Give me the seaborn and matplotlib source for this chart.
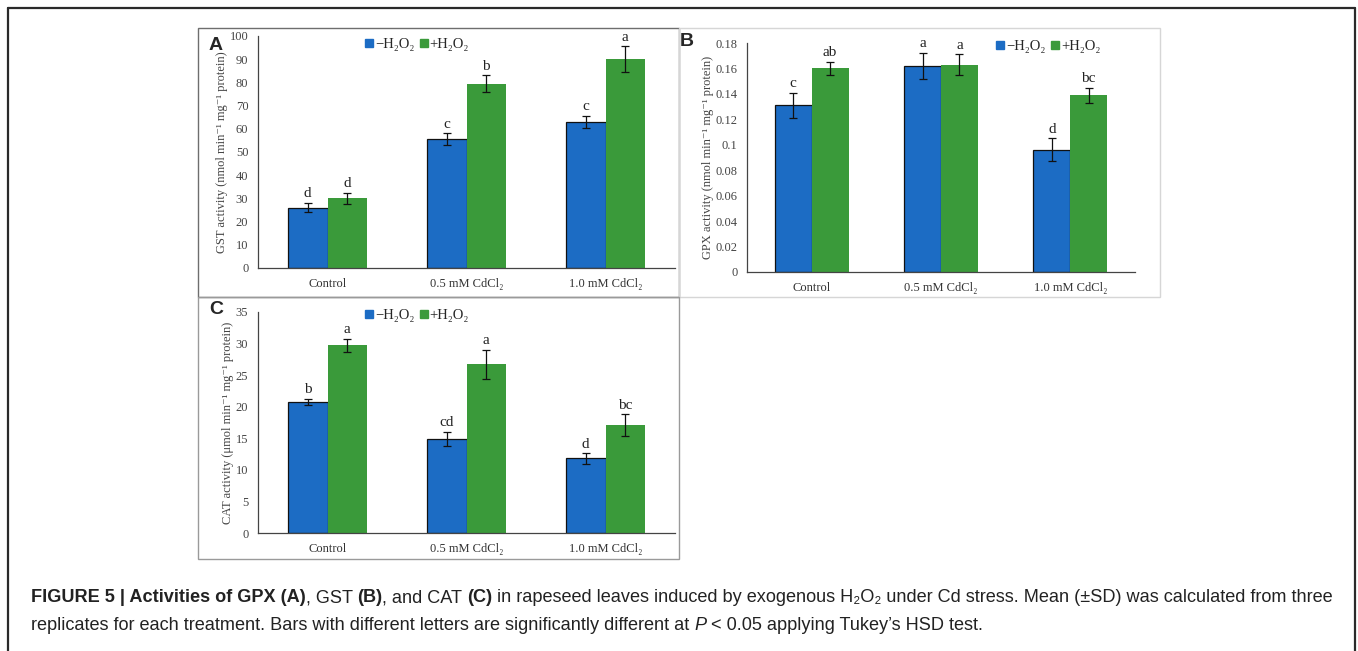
import numpy as np
import pandas as pd
import matplotlib
matplotlib.use("Agg")
import matplotlib.pyplot as plt
from matplotlib.lines import Line2D
from matplotlib.patches import Rectangle
from matplotlib.ticker import FixedLocator, FuncFormatter
import seaborn as sns

# ---- data ----
categories = ["Control", "0.5 mM CdCl₂", "1.0 mM CdCl₂"]
series_names = ["−H₂O₂", "+H₂O₂"]

gst_minus = [26.0, 55.5, 63.0]
gst_plus = [30.0, 79.5, 90.0]
gst_minus_sd = [2.0, 2.5, 2.5]
gst_plus_sd = [2.5, 3.5, 5.5]
gst_minus_letters = ["d", "c", "c"]
gst_plus_letters = ["d", "b", "a"]

gpx_minus = [0.131, 0.162, 0.096]
gpx_plus = [0.160, 0.163, 0.139]
gpx_minus_sd = [0.010, 0.010, 0.009]
gpx_plus_sd = [0.005, 0.008, 0.006]
gpx_minus_letters = ["c", "a", "d"]
gpx_plus_letters = ["ab", "a", "bc"]

cat_minus = [20.8, 14.9, 11.8]
cat_plus = [29.7, 26.7, 17.1]
cat_minus_sd = [0.5, 1.1, 0.8]
cat_plus_sd = [1.1, 2.3, 1.7]
cat_minus_letters = ["b", "cd", "d"]
cat_plus_letters = ["a", "a", "bc"]

BLUE = "#1c6cc4"
GREEN = "#3a9a3a"
SERIF = ["Liberation Serif", "DejaVu Serif"]
SANS = ["Liberation Sans", "DejaVu Sans"]


def long_df(minus, plus):
    rows = []
    for cat, m, p in zip(categories, minus, plus):
        rows.append({"treatment": cat, "series": series_names[0], "value": m})
        rows.append({"treatment": cat, "series": series_names[1], "value": p})
    return pd.DataFrame(rows)


def draw_panel(ax, minus, plus, sds, letters, ylim, step, ylabel, leg_xy):
    df = long_df(minus, plus)
    sns.barplot(data=df, x="treatment", y="value", hue="series",
                order=categories, hue_order=series_names,
                palette=[BLUE, GREEN], saturation=1, width=0.57,
                errorbar=None, legend=False, ax=ax,
                edgecolor="#111111", linewidth=0.9)
    pad = ylim * 0.012
    bar_conts = list(ax.containers)[:2]
    for i, cont in enumerate(bar_conts):
        for bar, e, lab in zip(cont, sds[i], letters[i]):
            if i == 1:
                bar.set_edgecolor("none")
            cx = bar.get_x() + bar.get_width() / 2
            h = bar.get_height()
            ax.errorbar(cx, h, yerr=e, color="#111111", capsize=3,
                        elinewidth=0.9, capthick=0.9)
            ax.text(cx, h + e + pad, lab, ha="center", va="bottom",
                    fontsize=11, family=SERIF, color="#222222")

    ax.set_ylim(0, ylim)
    ax.set_xlim(-0.5, 2.5)
    ax.yaxis.set_major_locator(FixedLocator(np.arange(0, ylim + step / 2, step)))
    ax.yaxis.set_major_formatter(FuncFormatter(lambda v, p: f"{round(v, 4):g}"))
    ax.xaxis.set_minor_locator(FixedLocator([0.5, 1.5]))
    ax.tick_params(axis="x", which="major", length=0, labelsize=9,
                   colors="#333333", pad=7)
    ax.tick_params(axis="x", which="minor", length=4, width=0.9,
                   direction="out", color="#444444")
    ax.tick_params(axis="y", length=3, width=0.9, direction="out",
                   labelsize=9, colors="#444444", pad=4)
    for lab in ax.get_xticklabels() + ax.get_yticklabels():
        lab.set_family(SERIF)
    ax.set_xlabel("")
    ax.set_ylabel(ylabel, family=SERIF, fontsize=9, color="#444444", labelpad=1)
    for s in ["top", "right"]:
        ax.spines[s].set_visible(False)
    for s in ["left", "bottom"]:
        ax.spines[s].set_color("#444444")
        ax.spines[s].set_linewidth(0.9)
    ax.grid(False)
    ax.set_facecolor("none")

    handles = [Line2D([], [], marker="s", linestyle="none", markersize=6,
                      markerfacecolor=c, markeredgecolor=c)
               for c in (BLUE, GREEN)]
    ax.legend(handles, series_names, loc="center", bbox_to_anchor=leg_xy,
              ncol=2, frameon=False, handlelength=0.7, handletextpad=0.05,
              columnspacing=0.3, prop={"family": SERIF, "size": 10.5})


sns.set_theme(style="white")
plt.rcParams["font.family"] = SERIF

fig = plt.figure(figsize=(13.58, 6.51), dpi=100)
W, H = 1358.0, 651.0


def fx(px):
    return px / W


def fy(py):
    return 1 - py / H


# panel frames
fig.add_artist(Rectangle((fx(198), fy(297)), fx(679) - fx(198), fy(28) - fy(297),
                         transform=fig.transFigure, fill=False,
                         edgecolor="#6e6e6e", lw=1.0))
fig.add_artist(Rectangle((fx(679), fy(297)), fx(1160) - fx(679), fy(28) - fy(297),
                         transform=fig.transFigure, fill=False,
                         edgecolor="#d6d6d6", lw=1.0))
fig.add_artist(Rectangle((fx(198), fy(559)), fx(679) - fx(198), fy(297) - fy(559),
                         transform=fig.transFigure, fill=False,
                         edgecolor="#9a9a9a", lw=1.0))

# outer frame (open at the bottom)
for xs, ys in [((8, 8), (8, 651)), ((8, 1355), (8, 8)), ((1355, 1355), (8, 651))]:
    fig.add_artist(Line2D([fx(xs[0]), fx(xs[1])], [fy(ys[0]), fy(ys[1])],
                          transform=fig.transFigure, color="#2a2a2a", lw=1.6))

ax_a = fig.add_axes([fx(258), fy(268), fx(675) - fx(258), fy(36) - fy(268)])
ax_b = fig.add_axes([fx(747), fy(272), fx(1135) - fx(747), fy(43) - fy(272)])
ax_c = fig.add_axes([fx(258), fy(533), fx(675) - fx(258), fy(312) - fy(533)])

draw_panel(ax_a, gst_minus, gst_plus, [gst_minus_sd, gst_plus_sd],
           [gst_minus_letters, gst_plus_letters], 100, 10,
           "GST activity (nmol min⁻¹ mg⁻¹ protein)", (0.38, 0.965))
draw_panel(ax_b, gpx_minus, gpx_plus, [gpx_minus_sd, gpx_plus_sd],
           [gpx_minus_letters, gpx_plus_letters], 0.18, 0.02,
           "GPX activity (nmol min⁻¹ mg⁻¹ protein)", (0.775, 0.985))
draw_panel(ax_c, cat_minus, cat_plus, [cat_minus_sd, cat_plus_sd],
           [cat_minus_letters, cat_plus_letters], 35, 5,
           "CAT activity (μmol min⁻¹ mg⁻¹ protein)", (0.38, 0.985))

for lab, x, y in [("A", 216, 45), ("B", 687, 42), ("C", 216, 310)]:
    fig.text(fx(x), fy(y), lab, ha="center", va="center", fontsize=14,
             weight="bold", family=SANS)

# caption with mixed bold runs
caption_lines = [
    [("FIGURE 5 | Activities of GPX (A)", "bold"), (", GST ", "normal"),
     ("(B)", "bold"), (", and CAT ", "normal"), ("(C)", "bold"),
     (" in rapeseed leaves induced by exogenous H₂O₂ under Cd stress. "
      "Mean (±SD) was calculated from three", "normal")],
    [("replicates for each treatment. Bars with different letters are "
      "significantly different at ", "normal"), ("P", "italic"),
     (" < 0.05 applying Tukey’s HSD test.", "normal")],
]
caption_y = [598, 626]
renderer = fig.canvas.get_renderer()
CAP_SIZE = 13.05


def measure(s, weight):
    style = "italic" if weight == "italic" else "normal"
    w = "normal" if weight == "italic" else weight
    t = fig.text(0, 0, s, fontsize=CAP_SIZE, family=SANS, weight=w, style=style)
    wd = t.get_window_extent(renderer).width
    t.remove()
    return wd


def run_width(s, weight):
    # measure with guard characters so leading/trailing spaces count
    return measure("|" + s + "|", weight) - measure("||", weight)


for runs, y in zip(caption_lines, caption_y):
    x = 31.0
    for s, weight in runs:
        style = "italic" if weight == "italic" else "normal"
        w = "normal" if weight == "italic" else weight
        fig.text(fx(x), fy(y), s, fontsize=CAP_SIZE, family=SANS, weight=w,
                 style=style, ha="left", va="center", color="#222222")
        x += run_width(s, weight)

fig.savefig("out.png", dpi=100)
